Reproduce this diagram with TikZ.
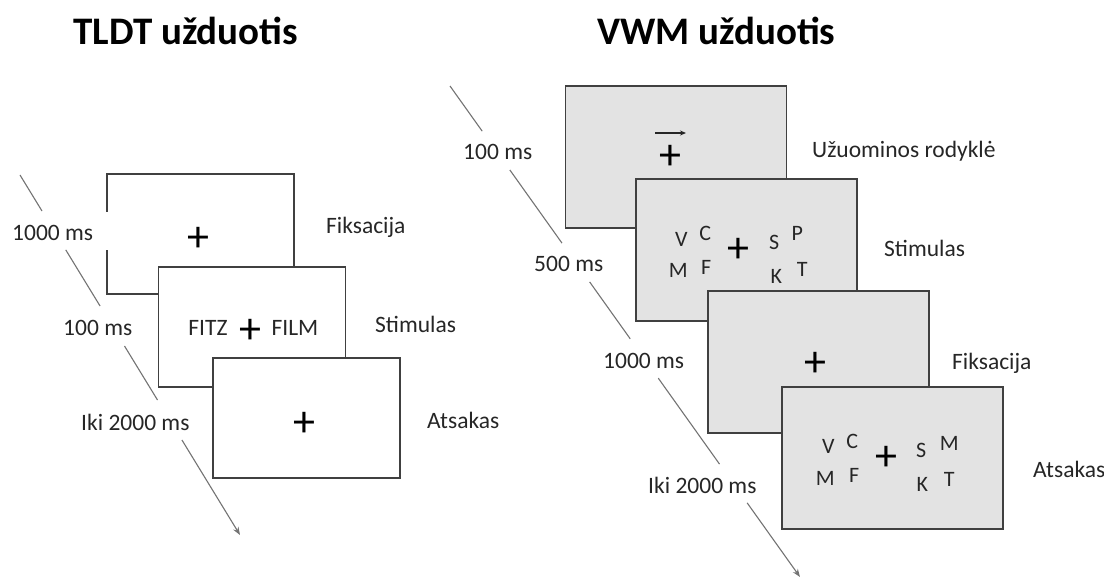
\documentclass[tikz,border=0pt]{standalone}
\usepackage{fontspec}
\setmainfont{Carlito}
\usetikzlibrary{calc,arrows.meta}
\begin{document}
\begin{tikzpicture}[x=1pt,y=-1pt,
  lbl/.style={anchor=base west, inner sep=0pt, font=\fontsize{23.5}{28}\selectfont, text=black!85},
  ttl/.style={anchor=base west, inner sep=0pt, font=\bfseries\fontsize{39}{46}\selectfont},
  lbox/.style={draw=black!75, line width=1.5pt, fill=white, minimum width=187pt, minimum height=120pt, inner sep=0pt},
  gbox/.style={draw=black!75, line width=1.5pt, fill=black!11, minimum width=221pt, minimum height=142pt, inner sep=0pt},
  cross/.style={inner sep=0pt, yshift=-3pt, font=\fontsize{44}{44}\selectfont},
  ltr/.style={inner sep=0pt, font=\fontsize{22}{26}\selectfont, text=black!85},
  stim/.style={inner sep=0pt, font=\fontsize{23.5}{28}\selectfont, text=black!85},
  tl/.style={draw=black!55, line width=1.1pt}
]
\useasboundingbox (0,0) rectangle (1104,580);

% titles
\node[ttl] (t1) at (73,45) {TLDT užduotis};
\node[ttl] (t2) at (597,45) {VWM užduotis};

% ---------- left panel ----------
\node[lbox] (f1) at (200.5,234) {};
\draw[white, line width=2.5pt] ($(f1.west)+(0,-22)$) -- ($(f1.west)+(0,16)$);
\node[cross] (f1p) at (198,236) {+};
\node[lbox] (f2) at (252,327) {};
\node[stim] (fitz) at (208,328) {FITZ};
\node[cross] (f2p) at (250,328) {+};
\node[stim] (film) at (295,328) {FILM};
\node[lbox] (f3) at (306.5,418) {};
\node[cross] (f3p) at (304,421) {+};

\node[lbl] (l1) at (326,234) {Fiksacija};
\node[lbl] (l2) at (375,333) {Stimulas};
\node[lbl] (l3) at (427,428) {Atsakas};

\node[lbl] (lt1) at (12,241) {1000 ms};
\node[lbl] (lt2) at (63,336) {100 ms};
\node[lbl] (lt3) at (81,430) {Iki 2000 ms};

\coordinate (ls) at (20,175);
\coordinate (le) at (240,535);
\draw[tl] (ls) -- ($(ls)!0.1!(le)$);
\draw[tl] ($(ls)!0.208!(le)$) -- ($(ls)!0.364!(le)$);
\draw[tl] ($(ls)!0.475!(le)$) -- ($(ls)!0.625!(le)$);
\draw[tl, -{Stealth[length=8pt,width=6pt]}] ($(ls)!0.736!(le)$) -- (le);

% ---------- right panel ----------
\node[gbox] (A) at (676,157) {};
\node[cross] (Ap) at (670,154) {+};
\coordinate (aa) at (655,133);
\coordinate (ab) at (686,133);
\draw[black!85, line width=1.2pt, -{Stealth[length=6pt,width=5pt]}] (aa) -- (ab);

\node[gbox] (B) at (746.5,250) {};
\node[ltr] at ($(B.north west)+(46,61)$) {V};
\node[ltr] at ($(B.north west)+(70,55)$) {C};
\node[ltr] at ($(B.north west)+(43,92)$) {M};
\node[ltr] at ($(B.north west)+(71,89)$) {F};
\node[cross] (Bp) at ($(B.north west)+(103,69)$) {+};
\node[ltr] at ($(B.north west)+(139,64)$) {S};
\node[ltr] at ($(B.north west)+(162,55)$) {P};
\node[ltr] at ($(B.north west)+(141,98)$) {K};
\node[ltr] at ($(B.north west)+(167,91)$) {T};

\node[gbox] (C) at (818.5,362) {};
\node[cross] (Cp) at (815,361) {+};

\node[gbox] (D) at (892.5,458) {};
\node[ltr] at ($(D.north west)+(47,60)$) {V};
\node[ltr] at ($(D.north west)+(71,55)$) {C};
\node[ltr] at ($(D.north west)+(44,92)$) {M};
\node[ltr] at ($(D.north west)+(73,89)$) {F};
\node[cross] (Dp) at ($(D.north west)+(105,69)$) {+};
\node[ltr] at ($(D.north west)+(140,64)$) {S};
\node[ltr] at ($(D.north west)+(168,57)$) {M};
\node[ltr] at ($(D.north west)+(141,98)$) {K};
\node[ltr] at ($(D.north west)+(168,93)$) {T};

\node[lbl] (r1) at (812,158) {Užuominos rodyklė};
\node[lbl] (r2) at (884,257) {Stimulas};
\node[lbl] (r3) at (952,369) {Fiksacija};
\node[lbl] (r4) at (1033,477) {Atsakas};

\node[lbl] (rt1) at (463,160) {100 ms};
\node[lbl] (rt2) at (534,272) {500 ms};
\node[lbl] (rt3) at (603,368) {1000 ms};
\node[lbl] (rt4) at (648,493) {Iki 2000 ms};

\coordinate (rs) at (450,86);
\coordinate (re) at (800,577);
\draw[tl] (rs) -- ($(rs)!0.092!(re)$);
\draw[tl] ($(rs)!0.171!(re)$) -- ($(rs)!0.320!(re)$);
\draw[tl] ($(rs)!0.399!(re)$) -- ($(rs)!0.515!(re)$);
\draw[tl] ($(rs)!0.595!(re)$) -- ($(rs)!0.770!(re)$);
\draw[tl, -{Stealth[length=8pt,width=6pt]}] ($(rs)!0.849!(re)$) -- (re);
\end{tikzpicture}
\end{document}
